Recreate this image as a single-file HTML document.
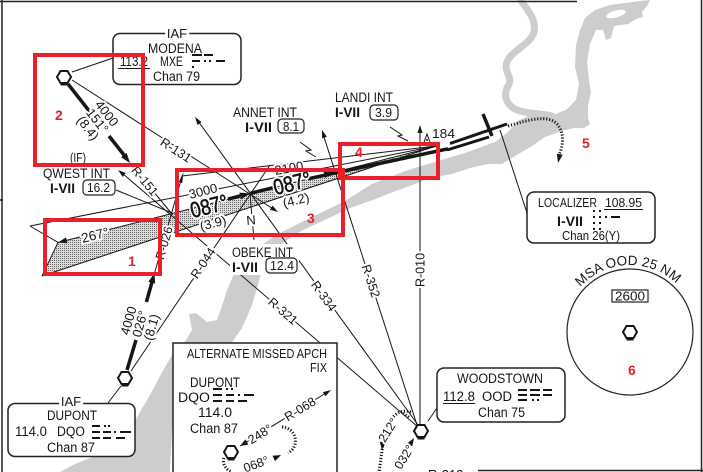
<!DOCTYPE html>
<html><head><meta charset="utf-8">
<style>
html,body{margin:0;padding:0;background:#fff;width:703px;height:472px;overflow:hidden}
svg{display:block;font-family:"Liberation Sans",Arial,sans-serif}
text{fill:#161616}
.h{stroke:#fff;stroke-width:4;paint-order:stroke;stroke-linejoin:round}
.k{stroke:#161616;stroke-width:0.6}
.b{font-weight:bold}
.r{fill:#e62129;font-weight:bold}
</style></head><body>
<svg width="703" height="472" viewBox="0 0 703 472" xmlns="http://www.w3.org/2000/svg" style="font-size:12.5px">
<defs>
<pattern id="st" width="2" height="2" patternUnits="userSpaceOnUse"><rect width="2" height="2" fill="#dcdcdc"/><rect width="1" height="1" fill="#666"/></pattern>
</defs>
<rect width="703" height="472" fill="#fff"/>

<!-- water -->
<path fill="#cdcdcd" d="M580,30 L585,18 L595,10 L610,5 L625,3 L640,1 L650,0 L647,6 L642,12 L643,17 L636,19 L628,24 L614,26 L611,38 L606,40 L603,30 L596,30 L590,44 L587,62 L589,80 L591,92 L588,106 L588,118 L590,124 L584,128 L574,128 L562,131 L545,137 L532,146 L515,156 L502,164 L488,164 L470,168 L452,174 L430,178 L410,186 L393,192 L373,200 L350,208 L325,220 L303,230 L287,240 L272,252 L263,265 L258,285 L252,305 L242,328 L228,348 L210,365 L195,380 L185,395 L178,410 L172,430 L170,472 L60,472 L75,464 L95,456 L118,445 L130,430 L140,412 L150,395 L160,376 L172,355 L186,340 L192,330 L189,314 L196,313 L207,322 L217,320 L222,306 L227,290 L234,274 L242,259 L256,248 L282,232 L312,217 L345,201 L372,184 L405,171 L438,161 L468,152 L495,142 L508,132 L518,121 L532,114 L550,116 L566,110 L576,100 L579,84 L575,67 L576,45 Z"/>
<ellipse cx="616" cy="14" rx="10" ry="3.5" transform="rotate(-15 616 14)" fill="#fff"/>
<path d="M521,0 C525,8 537,18 534,32 C531,44 512,50 507,62 C503,72 514,78 508,86 C503,95 506,104 515,109 C525,114 540,113 552,116" stroke="#cdcdcd" stroke-width="7" fill="none" stroke-linecap="round"/>

<!-- stipple -->
<polygon points="58,242.5 436,146.4 42,276" fill="url(#st)"/>

<!-- frame -->
<g stroke="#222" stroke-width="1.5">
<line x1="0" y1="1.5" x2="577" y2="1.5"/>
<line x1="2" y1="0" x2="2" y2="472"/>
<line x1="701.5" y1="0" x2="701.5" y2="472"/>
<line x1="478" y1="470.5" x2="703" y2="470.5"/>
<line x1="0" y1="200" x2="3" y2="200"/>
</g>

<!-- thin lines -->
<g stroke="#161616" stroke-width="1" fill="none">
<line x1="72" y1="80" x2="274" y2="209.5"/>
<line x1="418" y1="425" x2="198" y2="121"/>
<line x1="417" y1="425" x2="323" y2="134"/>
<line x1="420" y1="424" x2="420" y2="130"/>
<line x1="418" y1="427" x2="122" y2="173"/>
<line x1="131" y1="371" x2="270" y2="165"/>
<line x1="250" y1="194" x2="254" y2="240"/>
<line x1="182" y1="176" x2="436" y2="146"/>
<line x1="30" y1="226" x2="436" y2="146"/>
<line x1="42" y1="276" x2="436" y2="146"/>
<line x1="58" y1="242.5" x2="436" y2="146.4"/>
<polyline points="30,226 58,242.5 42,276"/>
<line x1="116" y1="190" x2="172" y2="213"/>
<line x1="108" y1="403" x2="121" y2="386"/>
<line x1="72" y1="72" x2="113" y2="58"/>
<line x1="500" y1="130" x2="527" y2="213"/>
<line x1="437" y1="408" x2="428" y2="421"/>
<line x1="130" y1="163" x2="172" y2="214"/>
<line x1="154" y1="275" x2="181" y2="180"/>
<polyline points="300,142 311,150 306,151 316,157"/>
<polyline points="390,127 402,135 398,136 408,141"/>
<path d="M424,142 L427,134 L430,142"/>
</g>
<circle cx="427" cy="140" r="1" fill="#161616"/>

<!-- arrowheads thin -->
<g fill="#161616">
<polygon points="278,212 269.9,209.8 272.6,205.6"/>
<polygon points="195,117 201.6,122.1 197.6,125"/>
<polygon points="322,130 326.9,136.8 322.1,138.4"/>
<polygon points="420,125 417.5,133 422.5,133"/>
<polygon points="118,170 125.8,173 122.7,176.9"/>
<polygon points="382,450 379.8,441.7 385.8,442.3"/>
<polygon points="414,438 412.3,446.4 407.2,443.2"/>
<polygon points="558,163 556.9,153.6 562.7,154.8"/>
<polygon points="58,242.5 66,237.4 67.4,243.2"/>
<polygon points="183.5,172 182.2,183.1 178.8,182.1"/>
</g>

<!-- thick lines -->
<g stroke="#161616" stroke-width="3.5" fill="none">
<line x1="68" y1="84" x2="90" y2="112"/>
<line x1="109" y1="136" x2="124" y2="155"/>
<line x1="127" y1="370" x2="136" y2="340"/>
<line x1="146.4" y1="302" x2="152" y2="282"/>
<line x1="228" y1="199.1" x2="242" y2="195.5"/>
<line x1="250" y1="193.5" x2="276" y2="186.9"/>
<line x1="308" y1="178.8" x2="448" y2="148.8"/>
<line x1="447" y1="150" x2="489" y2="137" stroke-width="3"/>
<line x1="450" y1="143.5" x2="507" y2="124" stroke-width="3"/>
<line x1="483" y1="114" x2="492" y2="136"/>
</g>
<g fill="#161616">
<polygon points="130,163 121.1,157.3 126.6,152.9"/>
<polygon points="154.5,273 155.1,283.6 148.4,281.7"/>
<polygon points="250,193.5 241.2,199.3 239.4,192.6"/>
<polygon points="334,172.2 325.2,178 323.4,171.3"/>
</g>

<!-- dotted paths -->
<g stroke="#161616" stroke-width="3" fill="none" stroke-dasharray="1.2 1.8">
<path d="M508,126 C528,120 548,114 557,124 C565,133 563,146 559,155"/>
<path d="M411,412 C398,408 390,418 386,430 C383,440 382,452 379,472"/>
<path d="M403,413 L410,418"/>
</g>

<!-- label backgrounds -->
<g fill="#fff">
<rect x="230" y="244" width="69" height="31"/>
<rect x="231" y="105" width="75" height="30"/>
<rect x="333" y="90" width="67" height="32"/>
<rect x="41" y="165" width="75" height="32"/>
</g>

<!-- boxes -->
<g fill="#fff" stroke="#222" stroke-width="1.5">
<rect x="113" y="33.5" width="128" height="51" rx="7"/>
<rect x="8" y="403.5" width="127" height="53" rx="7"/>
<rect x="437" y="368" width="128" height="54" rx="7"/>
<rect x="527" y="192" width="128" height="51" rx="7"/>
<rect x="173" y="343" width="164" height="140"/>
</g>
<g fill="#fff" stroke="#222" stroke-width="1.2">
<rect x="83" y="180" width="32" height="15" rx="4"/>
<rect x="278" y="119" width="26" height="14" rx="4"/>
<rect x="370" y="105" width="28" height="15" rx="4"/>
<rect x="266" y="258" width="31" height="15" rx="4"/>
<rect x="612" y="290" width="36" height="12"/>
</g>
<circle cx="630" cy="332" r="63" fill="none" stroke="#222" stroke-width="1.2"/>

<!-- alt box holding -->
<g stroke="#161616" stroke-width="1" fill="none">
<line x1="240" y1="446" x2="326" y2="393"/>
</g>
<g fill="#161616">
<polygon points="331,390 325.5,396.3 322.9,392.1"/>
<polygon points="240,446 245.4,439.4 248.4,444.6"/>
<polygon points="281,455 275.1,461.1 272.5,455.7"/>
</g>
<g stroke="#161616" stroke-width="3" fill="none" stroke-dasharray="1.2 1.8">
<path d="M282,427 C297,428 300,447 288,453"/>
<path d="M224,458 C222,464 226,470 232,472"/>
</g>

<!-- hexagons -->
<g fill="#fff" stroke="#161616" stroke-width="2">
<polygon points="57,77 60.5,71 67.5,71 71,77 67.5,83 60.5,83"/>
<polygon points="118,378 121.5,372 128.5,372 132,378 128.5,384 121.5,384"/>
<polygon points="224,452 227.5,446 234.5,446 238,452 234.5,458 227.5,458"/>
<polygon points="414,431 417.5,425 424.5,425 428,431 424.5,437 417.5,437"/>
<polygon points="623,332 626.5,326 633.5,326 637,332 633.5,338 626.5,338"/>
</g>
<g stroke="#161616" stroke-width="3">
<line x1="60.5" y1="84" x2="67.5" y2="84"/>
<line x1="121.5" y1="385" x2="128.5" y2="385"/>
<line x1="227.5" y1="459" x2="234.5" y2="459"/>
<line x1="417.5" y1="438" x2="424.5" y2="438"/>
<line x1="626.5" y1="339" x2="633.5" y2="339"/>
</g>

<!-- morse -->
<g fill="#161616">
<rect x="192" y="54" width="10" height="2"/><rect x="204" y="54" width="9" height="2"/>
<rect x="192" y="60" width="8" height="2"/><rect x="204" y="60" width="2" height="2"/><rect x="209" y="60" width="2" height="2"/><rect x="216" y="60" width="9" height="2"/>
<rect x="192" y="66" width="2" height="2"/>

<rect x="92" y="425" width="8" height="2"/><rect x="104" y="425" width="2" height="2"/><rect x="108" y="425" width="2" height="2"/>
<rect x="92" y="431" width="8" height="2"/><rect x="103" y="431" width="8" height="2"/><rect x="114" y="431" width="2" height="2"/><rect x="120" y="431" width="11" height="2"/>
<rect x="92" y="437" width="8" height="2"/><rect x="103" y="437" width="8" height="2"/><rect x="116" y="437" width="9" height="2"/>

<rect x="213" y="388" width="9" height="2"/><rect x="226" y="388" width="2" height="2"/><rect x="231" y="388" width="2" height="2"/>
<rect x="213" y="394" width="9" height="2"/><rect x="226" y="394" width="8" height="2"/><rect x="238" y="394" width="2" height="2"/><rect x="244" y="394" width="10" height="2"/>
<rect x="213" y="400" width="9" height="2"/><rect x="226" y="400" width="8" height="2"/><rect x="238" y="400" width="9" height="2"/>

<rect x="518" y="389" width="9" height="2"/><rect x="530" y="389" width="10" height="2"/><rect x="543" y="389" width="9" height="2"/>
<rect x="518" y="394" width="9" height="2"/><rect x="530" y="394" width="10" height="2"/><rect x="543" y="394" width="9" height="2"/>
<rect x="518" y="399" width="9" height="2"/><rect x="532" y="399" width="2" height="2"/><rect x="537" y="399" width="2" height="2"/>

<rect x="593" y="210" width="2" height="2"/><rect x="599" y="210" width="2" height="2"/>
<rect x="593" y="216" width="2" height="2"/><rect x="599" y="216" width="2" height="2"/>
<rect x="593" y="222" width="2" height="2"/><rect x="599" y="222" width="2" height="2"/>
<rect x="593" y="228" width="2" height="2"/><rect x="599" y="228" width="2" height="2"/>
<rect x="605" y="216" width="2" height="2"/><rect x="611" y="216" width="9" height="2"/>
</g>

<!-- underlines -->
<g stroke="#161616" stroke-width="1">
<line x1="118" y1="68.5" x2="150" y2="68.5"/>
<line x1="443" y1="403.5" x2="475" y2="403.5"/>
<line x1="604" y1="209.5" x2="643" y2="209.5"/>
</g>

<!-- box texts -->
<text x="177" y="38" text-anchor="middle" class="h" style="stroke-width:6;font-size:13px">IAF</text>
<text x="148" y="53" style="font-size:13.5px" textLength="54" lengthAdjust="spacingAndGlyphs">MODENA</text>
<text x="120" y="66" style="font-size:13.5px" textLength="28" lengthAdjust="spacingAndGlyphs">113.2</text>
<text x="160" y="66" style="font-size:13.5px" textLength="23" lengthAdjust="spacingAndGlyphs">MXE</text>
<text x="153" y="81" style="font-size:13.5px" textLength="47" lengthAdjust="spacingAndGlyphs">Chan 79</text>

<text x="71" y="406" text-anchor="middle" class="h" style="stroke-width:6;font-size:13px">IAF</text>
<text x="47" y="420" style="font-size:13.5px" textLength="50" lengthAdjust="spacingAndGlyphs">DUPONT</text>
<text x="15" y="436" style="font-size:13.5px" textLength="32" lengthAdjust="spacingAndGlyphs">114.0</text>
<text x="57" y="436" style="font-size:13.5px" textLength="28" lengthAdjust="spacingAndGlyphs">DQO</text>
<text x="47" y="452" style="font-size:13.5px" textLength="48" lengthAdjust="spacingAndGlyphs">Chan 87</text>

<text x="187" y="358" style="font-size:13px" textLength="140" lengthAdjust="spacingAndGlyphs">ALTERNATE MISSED APCH</text>
<text x="310" y="372" style="font-size:13px" textLength="17" lengthAdjust="spacingAndGlyphs">FIX</text>
<text x="190" y="387" style="font-size:13.5px" textLength="50" lengthAdjust="spacingAndGlyphs">DUPONT</text>
<text x="178" y="402" style="font-size:13.5px" textLength="32" lengthAdjust="spacingAndGlyphs">DQO</text>
<text x="198" y="417" style="font-size:13.5px" textLength="34" lengthAdjust="spacingAndGlyphs">114.0</text>
<text x="190" y="433" style="font-size:13.5px" textLength="48" lengthAdjust="spacingAndGlyphs">Chan 87</text>

<text x="457" y="383" style="font-size:13.5px" textLength="86" lengthAdjust="spacingAndGlyphs">WOODSTOWN</text>
<text x="443" y="401" style="font-size:13.5px" textLength="32" lengthAdjust="spacingAndGlyphs">112.8</text>
<text x="482" y="401" style="font-size:13.5px" textLength="30" lengthAdjust="spacingAndGlyphs">OOD</text>
<text x="478" y="417" style="font-size:13.5px" textLength="47" lengthAdjust="spacingAndGlyphs">Chan 75</text>

<text x="538" y="207" style="font-size:12.5px" textLength="59" lengthAdjust="spacingAndGlyphs">LOCALIZER</text>
<text x="605" y="207" style="font-size:12.5px" textLength="37" lengthAdjust="spacingAndGlyphs">108.95</text>
<text x="557" y="226" class="b" style="font-size:14px" textLength="26" lengthAdjust="spacingAndGlyphs">I-VII</text>
<text x="562" y="240" style="font-size:12.5px" textLength="58" lengthAdjust="spacingAndGlyphs">Chan 26(Y)</text>

<!-- fix labels -->
<text x="70" y="162" style="font-size:12.5px" textLength="16" lengthAdjust="spacingAndGlyphs" class="h">(IF)</text>
<text x="43" y="178" style="font-size:13.5px" textLength="67" lengthAdjust="spacingAndGlyphs">QWEST INT</text>
<text x="50" y="193" class="b" style="font-size:14px" textLength="25" lengthAdjust="spacingAndGlyphs">I-VII</text>
<text x="87" y="192" style="font-size:13px" textLength="23" lengthAdjust="spacingAndGlyphs">16.2</text>

<text x="233" y="117" style="font-size:13.5px" textLength="64" lengthAdjust="spacingAndGlyphs">ANNET INT</text>
<text x="245" y="132" class="b" style="font-size:14px" textLength="27" lengthAdjust="spacingAndGlyphs">I-VII</text>
<text x="283" y="131" style="font-size:13px" textLength="16" lengthAdjust="spacingAndGlyphs">8.1</text>

<text x="335" y="102" style="font-size:13.5px" textLength="58" lengthAdjust="spacingAndGlyphs">LANDI INT</text>
<text x="335" y="117" class="b" style="font-size:14px" textLength="25" lengthAdjust="spacingAndGlyphs">I-VII</text>
<text x="375" y="117" style="font-size:13px" textLength="17" lengthAdjust="spacingAndGlyphs">3.9</text>

<text x="232" y="257" style="font-size:13.5px" textLength="61" lengthAdjust="spacingAndGlyphs">OBEKE INT</text>
<text x="232" y="272" class="b" style="font-size:14px" textLength="26" lengthAdjust="spacingAndGlyphs">I-VII</text>
<text x="270" y="270" style="font-size:13px" textLength="24" lengthAdjust="spacingAndGlyphs">12.4</text>

<text x="432" y="138" style="font-size:13px" textLength="23" lengthAdjust="spacingAndGlyphs" class="h">184</text>
<text x="630" y="300.5" style="font-size:12.5px" text-anchor="middle" textLength="30" lengthAdjust="spacingAndGlyphs">2600</text>
<path id="msa" d="M581.8,285.5 A67,67 0 0 1 674.8,282.2" fill="none"/>
<text style="font-size:13.5px"><textPath href="#msa" startOffset="50%" text-anchor="middle">MSA OOD 25 NM</textPath></text>
<text x="428" y="479" style="font-size:13px">R-212</text>

<!-- rotated labels -->
<g text-anchor="middle" style="font-size:12.5px">
<text class="h" transform="translate(176,150) rotate(33)" dy="0.35em">R-131</text>
<text class="h" transform="translate(145,181) rotate(50.5)" dy="0.35em">R-151</text>
<text class="h" transform="translate(203,263) rotate(-56)" dy="0.35em">R-044</text>
<text class="h" transform="translate(164,243) rotate(-74)" dy="0.35em">R-026</text>
<text class="h" transform="translate(324,296) rotate(54)" dy="0.35em">R-334</text>
<text class="h" transform="translate(283,311) rotate(40.4)" dy="0.35em">R-321</text>
<text class="h" transform="translate(371,281) rotate(72)" dy="0.35em">R-352</text>
<text class="h" transform="translate(420,270) rotate(-90)" dy="0.35em">R-010</text>
<text class="h" transform="translate(300,409) rotate(-31.5)" dy="0.35em">R-068</text>
<text class="h" transform="translate(260,434) rotate(-31.5)" dy="0.35em">248°</text>
<text class="h" transform="translate(256,464) rotate(-20)" dy="0.35em">068°</text>
<text class="h" transform="translate(388,430) rotate(-58)" dy="0.35em">212°</text>
<text class="h" transform="translate(404,457) rotate(-58)" dy="0.35em">032°</text>
<text class="h" transform="translate(95,235) rotate(-14.2)" dy="0.35em" style="font-size:13.5px">267°</text>
<text class="h" transform="translate(203,191) rotate(-14.2)" dy="0.35em" style="font-size:13px">3000</text>
<text class="h" transform="translate(213,223) rotate(-14.2)" dy="0.35em" style="font-size:13px">(3.9)</text>
<text class="h" transform="translate(296,200) rotate(-14.2)" dy="0.35em" style="font-size:13px">(4.2)</text>
<text class="h" transform="translate(289,168) rotate(-10)" dy="0.35em" style="font-size:13px">2100</text>
<text class="h" transform="translate(251,220) rotate(-5)" dy="0.35em" style="font-size:13px">N</text>
<text class="h" transform="translate(209,206) rotate(-14.2)" dy="0.35em" style="font-size:22px" textLength="38" lengthAdjust="spacingAndGlyphs">087°</text>
<text class="h" transform="translate(292,183) rotate(-14.2)" dy="0.35em" style="font-size:22px" textLength="38" lengthAdjust="spacingAndGlyphs">087°</text>
<text class="k" transform="translate(209,206) rotate(-14.2)" dy="0.35em" style="font-size:22px" textLength="38" lengthAdjust="spacingAndGlyphs">087°</text>
<text class="k" transform="translate(292,183) rotate(-14.2)" dy="0.35em" style="font-size:22px" textLength="38" lengthAdjust="spacingAndGlyphs">087°</text>
<g transform="translate(97,121) rotate(51.9)" style="font-size:13px">
<text class="h" y="-8">4000</text>
<text class="h" y="4">151°</text>
<text class="h" y="16">(8.4)</text>
</g>
<g transform="translate(140.4,324) rotate(-74.1)" style="font-size:13px">
<text class="h" y="-8">4000</text>
<text class="h" y="4">026°</text>
<text class="h" y="16">(8.1)</text>
</g>
</g>

<!-- red annotations -->
<g fill="none" stroke="#e62129" stroke-width="4">
<rect x="35" y="55" width="108" height="110"/>
<rect x="45" y="220" width="115" height="54"/>
<rect x="177" y="170" width="166" height="65"/>
<rect x="340" y="144" width="98" height="34"/>
</g>
<text class="r" x="128" y="266" style="font-size:14px">1</text>
<text class="r" x="55" y="120" style="font-size:14px">2</text>
<text class="r" x="307" y="223" style="font-size:14px">3</text>
<text class="r" x="355" y="157" style="font-size:14px">4</text>
<text class="r" x="582" y="148" style="font-size:14px">5</text>
<text class="r" x="628" y="375" style="font-size:14px">6</text>
</svg>
</body></html>
